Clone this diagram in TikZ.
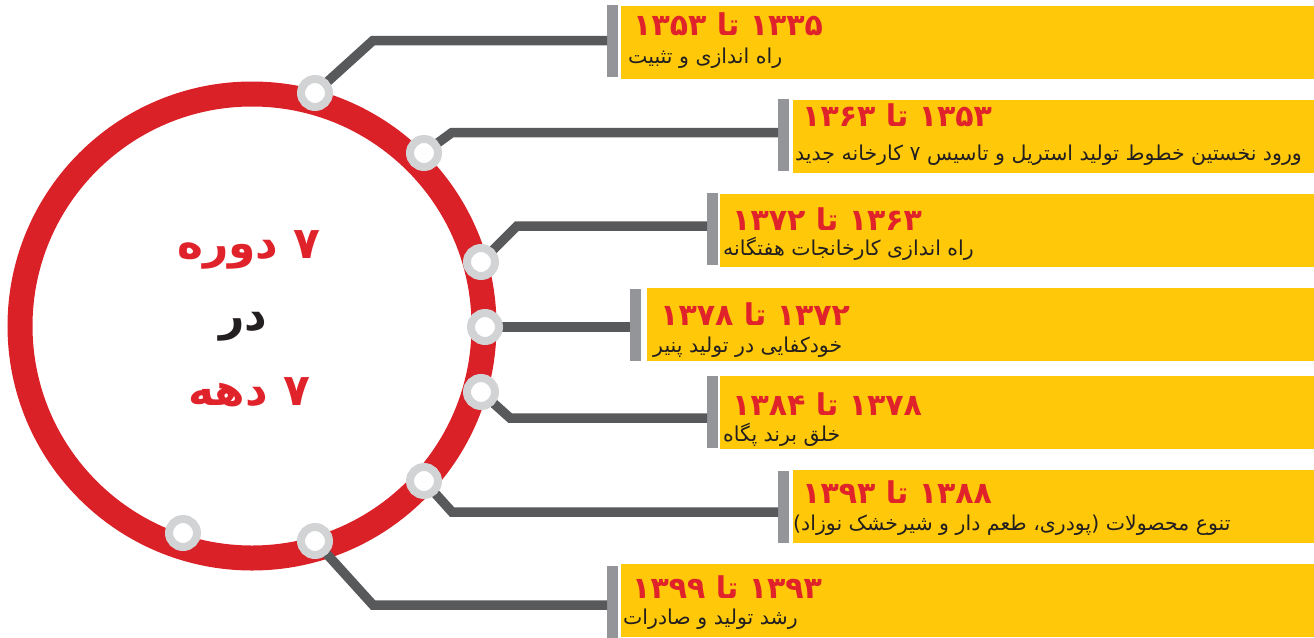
\documentclass[tikz,border=0pt]{standalone}
\usepackage{fontspec}
\newfontfamily\fa[Script=Arabic]{DejaVu Sans}
\TeXXeTstate=1
\definecolor{ringred}{RGB}{218,33,40}
\definecolor{yearred}{RGB}{224,35,42}
\definecolor{boxyellow}{RGB}{255,201,10}
\definecolor{conngray}{RGB}{88,89,91}
\definecolor{bargray}{RGB}{147,149,152}
\definecolor{stngray}{RGB}{209,211,212}
\definecolor{txtblack}{RGB}{35,31,32}
\begin{document}
\begin{tikzpicture}[x=1pt,y=-1pt,
  box/.style={rectangle,fill=boxyellow,draw=none,anchor=north west,minimum height=73pt,inner sep=0pt},
  bar/.style={rectangle,fill=bargray,draw=none,anchor=north west,minimum width=10.5pt,minimum height=72pt,inner sep=0pt},
  conn/.style={draw=conngray,line width=9.5pt},
  stn/.style={circle,draw=stngray,line width=8pt,fill=white,minimum size=28pt,inner sep=0pt},
  yr/.style={anchor=base west,inner sep=0pt,text=yearred,font=\fa\bfseries\fontsize{30}{34}\selectfont},
  sub/.style={anchor=base west,inner sep=0pt,text=txtblack,font=\fa\fontsize{20.5}{24}\selectfont},
  big/.style={anchor=base,inner sep=0pt,font=\fa\bfseries\fontsize{44}{48}\selectfont}]
\useasboundingbox (0,0) rectangle (1314,637);
% boxes
\node[box,minimum width=693pt] (y1) at (621,6) {};
\node[box,minimum width=521pt] (y2) at (793,100) {};
\node[box,minimum width=594pt] (y3) at (720,194) {};
\node[box,minimum width=667pt] (y4) at (647,288) {};
\node[box,minimum width=594pt] (y5) at (720,376) {};
\node[box,minimum width=521pt] (y6) at (793,470) {};
\node[box,minimum width=693pt] (y7) at (621,564) {};
% bars
\node[bar] (b1) at (607,5) {};
\node[bar] (b2) at (778,99) {};
\node[bar] (b3) at (707,193) {};
\node[bar] (b4) at (630,289) {};
\node[bar] (b5) at (707,376) {};
\node[bar] (b6) at (778,471) {};
\node[bar] (b7) at (607,566) {};
% ring
\coordinate (c) at (252,326);
\draw[ringred,line width=25pt] (c) circle[radius=232pt];
% corners
\coordinate (k1) at (373,40.5);
\coordinate (k2) at (452,132.5);
\coordinate (k3) at (517,226);
\coordinate (k5) at (510,418);
\coordinate (k6) at (452,512);
\coordinate (k7) at (373,605);
% stations
\coordinate (p1) at (315,93);
\coordinate (p2) at (424,153);
\coordinate (p3) at (481,262);
\coordinate (p4) at (485,327);
\coordinate (p5) at (481,392);
\coordinate (p6) at (424,481);
\coordinate (p7) at (315,541);
% connectors
\draw[conn] (p1) -- (k1) -- (k1 -| b1.west);
\draw[conn] (p2) -- (k2) -- (k2 -| b2.west);
\draw[conn] (p3) -- (k3) -- (k3 -| b3.west);
\draw[conn] (p4) -- (p4 -| b4.west);
\draw[conn] (p5) -- (k5) -- (k5 -| b5.west);
\draw[conn] (p6) -- (k6) -- (k6 -| b6.west);
\draw[conn] (p7) -- (k7) -- (k7 -| b7.west);
\node[stn] (s1) at (p1) {};
\node[stn] (s2) at (p2) {};
\node[stn] (s3) at (p3) {};
\node[stn] (s4) at (p4) {};
\node[stn] (s5) at (p5) {};
\node[stn] (s6) at (p6) {};
\node[stn] (s7) at (p7) {};
\node[stn] (s8) at (183,533) {};
% years
\node[yr] (t1) at (633,35) {\beginR ۱۳۳۵ تا ۱۳۵۳\endR};
\node[yr] (t2) at (802,126) {\beginR ۱۳۵۳ تا ۱۳۶۳\endR};
\node[yr] (t3) at (732,230) {\beginR ۱۳۶۳ تا ۱۳۷۲\endR};
\node[yr] (t4) at (660,325) {\beginR ۱۳۷۲ تا ۱۳۷۸\endR};
\node[yr] (t5) at (732,415) {\beginR ۱۳۷۸ تا ۱۳۸۴\endR};
\node[yr] (t6) at (802,503) {\beginR ۱۳۸۸ تا ۱۳۹۳\endR};
\node[yr] (t7) at (632,598) {\beginR ۱۳۹۳ تا ۱۳۹۹\endR};
% subtitles
\node[sub] (u1) at (628,63) {\beginR راه اندازی و تثبیت\endR};
\node[sub] (u2) at (795,160) {\beginR ورود نخستین خطوط تولید استریل و تاسیس ۷ کارخانه جدید\endR};
\node[sub] (u3) at (723,255) {\beginR راه اندازی کارخانجات هفتگانه\endR};
\node[sub] (u4) at (653,352) {\beginR خودکفایی در تولید پنیر\endR};
\node[sub] (u5) at (723,441) {\beginR خلق برند پگاه\endR};
\node[sub] (u6) at (793,530) {\beginR تنوع محصولات (پودری، طعم دار و شیرخشک نوزاد)\endR};
\node[sub] (u7) at (623,624) {\beginR رشد تولید و صادرات\endR};
% centre
\node[big,text=yearred] (m1) at (249,258) {\beginR ۷ دوره\endR};
\node[big,text=txtblack] (m2) at (243,330) {\beginR در\endR};
\node[big,text=yearred] (m3) at (249,405) {\beginR ۷ دهه\endR};
\end{tikzpicture}
\end{document}
